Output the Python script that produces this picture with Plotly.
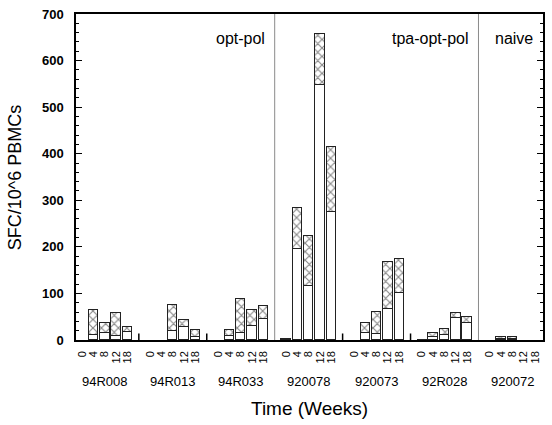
import plotly.graph_objects as go

groups = ["94R008", "94R013", "94R033", "920078", "920073", "92R028", "920072"]
weeks = ["0", "4", "8", "12", "18"]

# lower (open) segment per group, weeks 0,4,8,12,18
open_vals = [
    [0, 11, 16, 8, 18],
    [0, 0, 19, 27, 7],
    [0, 8, 14, 29, 45],
    [1, 196, 116, 548, 274],
    [0, 14, 12, 67, 100],
    [1, 7, 10, 48, 37],
    [0, 2, 2, 0, 0],
]
# upper (hatched) segment per group
hatched_vals = [
    [0, 54, 21, 50, 9],
    [0, 0, 56, 17, 14],
    [0, 14, 75, 36, 29],
    [2, 87, 108, 109, 141],
    [0, 23, 49, 100, 75],
    [0, 9, 13, 10, 12],
    [0, 5, 5, 0, 0],
]
section_labels = ["opt-pol", "tpa-opt-pol", "naive"]
section_label_x = [16.3, 34.3, 40.0]
separators_x = [17, 35]
group_ticks_x = [5, 11, 23, 29]

SLOT = 6
xs, ticktext, lower, upper = [], [], [], []
for g in range(len(groups)):
    for t in range(len(weeks)):
        xs.append(g * SLOT + t)
        ticktext.append(weeks[t])
        lower.append(open_vals[g][t] if open_vals[g][t] else None)
        upper.append(hatched_vals[g][t] if hatched_vals[g][t] else None)

FONT = "Liberation Sans, Arial, sans-serif"

fig = go.Figure()
fig.add_trace(go.Bar(
    x=xs, y=lower, width=0.83,
    marker=dict(color="white", line=dict(color="#222", width=1)),
    showlegend=False,
))
fig.add_trace(go.Bar(
    x=xs, y=upper, width=0.83,
    marker=dict(color="white", line=dict(color="#222", width=1),
                pattern=dict(shape="x", fgcolor="#111", bgcolor="white", size=6, solidity=0.35)),
    showlegend=False,
))

shapes = []
for sx in separators_x:
    shapes.append(dict(type="line", xref="x", yref="y", x0=sx, x1=sx, y0=0, y1=700,
                       line=dict(color="#8a8a8a", width=1)))
for tx in group_ticks_x:
    shapes.append(dict(type="line", xref="x", yref="y", x0=tx, x1=tx, y0=0, y1=14,
                       line=dict(color="black", width=1.5)))

annotations = []
for lab, lx in zip(section_labels, section_label_x):
    annotations.append(dict(text=lab, x=lx, xref="x", y=0.925, yref="paper",
                            xanchor="right", yanchor="middle", showarrow=False,
                            font=dict(family=FONT, size=16, color="black")))
for g, name in enumerate(groups):
    annotations.append(dict(text=name, x=g * SLOT + 2, xref="x", y=-0.127, yref="paper",
                            xanchor="center", yanchor="middle", showarrow=False,
                            font=dict(family=FONT, size=13, color="black")))
annotations.append(dict(text="Time (Weeks)", x=0.5, xref="paper", y=-0.21, yref="paper",
                        xanchor="center", yanchor="middle", showarrow=False,
                        font=dict(family=FONT, size=19, color="black")))
annotations.append(dict(text="SFC/10^6 PBMCs", x=-0.13, xref="paper", y=0.5, yref="paper",
                        xanchor="center", yanchor="middle", showarrow=False, textangle=-90,
                        font=dict(family=FONT, size=18, color="black")))

fig.update_layout(
    width=552, height=425,
    margin=dict(l=76, r=7, t=9, b=85),
    paper_bgcolor="white", plot_bgcolor="white",
    barmode="stack", bargap=0,
    shapes=shapes, annotations=annotations,
    font=dict(family=FONT, color="black"),
    xaxis=dict(range=[-0.55, 40.7], tickvals=xs, ticktext=ticktext, tickangle=-90,
               ticks="", showgrid=False, zeroline=False, showline=True,
               linecolor="black", linewidth=1.5, mirror=True, ticklabelstandoff=5,
               tickfont=dict(family=FONT, size=11, color="black")),
    yaxis=dict(range=[0, 700], dtick=100, ticks="inside", ticklen=6, tickwidth=1.2,
               tickcolor="black", showgrid=False, zeroline=False, showline=True,
               linecolor="black", linewidth=1.5, mirror="allticks",
               ticklabelstandoff=8,
               minor=dict(dtick=20, ticks="inside", ticklen=3, tickcolor="black"),
               tickfont=dict(family=FONT, size=13, color="black", weight="bold")),
)

fig.write_html("out.html", config={"displayModeBar": False},
               post_script="document.body.style.margin='0';document.body.style.padding='0';")
